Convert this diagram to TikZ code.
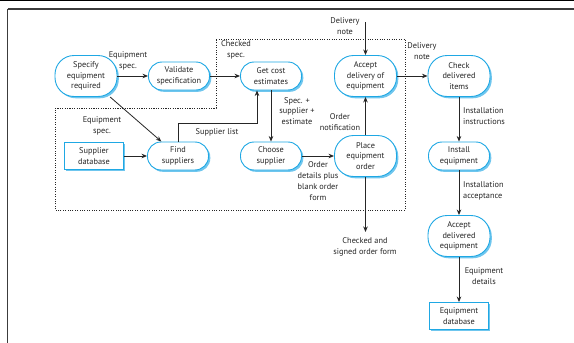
\documentclass[tikz,border=0pt]{standalone}
\usepackage{fontspec}
\setmainfont{PT Sans}
\usetikzlibrary{arrows.meta,shadows}

\definecolor{procblue}{HTML}{1FA8E4}
\definecolor{shadeblue}{HTML}{6FC6EE}
\definecolor{inkgray}{HTML}{262626}
\definecolor{framegray}{HTML}{3C3C3C}

\begin{document}
\begin{tikzpicture}[x=1pt,y=-1pt,
  txt/.style={font=\fontsize{8.3}{10.8}\selectfont, text=inkgray, align=center, inner sep=0pt},
  procbase/.style={txt, draw=procblue, fill=white, line width=0.9pt, inner sep=1pt,
    drop shadow={opacity=1, fill=shadeblue, shadow xshift=1.8pt, shadow yshift=-1.8pt}},
  proc/.style={procbase, rounded corners=13.5pt, minimum width=61pt, minimum height=28pt},
  bigproc/.style={procbase, rounded corners=19pt, minimum width=62pt, minimum height=41pt},
  store/.style={procbase, rectangle, minimum width=59pt, minimum height=27pt},
  lbl/.style={txt},
  arr/.style={draw=inkgray, line width=0.8pt, -{Stealth[length=5.5pt,width=4.5pt]}},
  boundary/.style={draw=inkgray, line width=0.8pt, dash pattern=on 1.1pt off 1.3pt}
]
\useasboundingbox (0,0) rectangle (574,343);
\fill[white] (0,0) rectangle (574,343);

% page frame
\draw[black, line width=0.8pt] (0,0.4) -- (574,0.4);
\draw[framegray, line width=1.5pt] (7.5,9) -- (574,9);
\draw[framegray, line width=1.3pt] (7.5,9) -- (7.5,343);

% enclosing boundary of the procurement activities
\draw[boundary] (55,108) -- (216,108) -- (216,39) -- (405,39) -- (405,210) -- (55,210) -- cycle;

% processes and data stores
\node[bigproc] (spec)    at (86,76)   {Specify\\equipment\\required};
\node[proc]    (valid)   at (179,76)  {Validate\\specification};
\node[proc]    (cost)    at (271,76)  {Get cost\\estimates};
\node[bigproc] (accept)  at (365.5,76) {Accept\\delivery of\\equipment};
\node[bigproc] (check)   at (459,76)  {Check\\delivered\\items};
\node[store]   (sdb)     at (94,156)  {Supplier\\database};
\node[proc]    (find)    at (178,156) {Find\\suppliers};
\node[proc]    (choose)  at (271,156) {Choose\\supplier};
\node[bigproc] (place)   at (365.5,156) {Place\\equipment\\order};
\node[proc]    (install) at (459,156) {Install\\equipment};
\node[bigproc] (acc2)    at (459,236) {Accept\\delivered\\equipment};
\node[store]   (edb)     at (459,316) {Equipment\\database};

% free ends of the external flows
\coordinate (dnin)  at (365.5,22);
\coordinate (cout)  at (365.5,232);
\coordinate (slbend) at (257,123);

% data flows
\draw[arr] (spec) -- (valid);
\draw[arr] (valid) -- (cost);
\draw[arr] (spec) -- (find);
\draw[arr] (sdb) -- (find);
\draw[arr] (find.north) |- (slbend) -- (slbend |- cost.south);
\draw[arr] (cost) -- (choose);
\draw[arr] (choose) -- (place);
\draw[arr] (place) -- (accept);
\draw[arr] (dnin) -- (accept);
\draw[arr] (accept) -- (check);
\draw[arr] (place) -- (cout);
\draw[arr] (check) -- (install);
\draw[arr] (install) -- (acc2);
\draw[arr] (acc2) -- (edb);

% flow labels
\node[lbl] (l1)  at (128,61)  {Equipment\\spec.};
\node[lbl] (l2)  at (236,50)  {Checked\\spec.};
\node[lbl] (l3)  at (102,126) {Equipment\\spec.};
\node[lbl] (l4)  at (217,132) {Supplier list};
\node[lbl] (l5)  at (297,111) {Spec. +\\supplier +\\estimate};
\node[lbl] (l6)  at (318,181) {Order\\details plus\\blank order\\form};
\node[lbl] (l7)  at (340,122) {Order\\notification};
\node[lbl] (l8)  at (345,26)  {Delivery\\note};
\node[lbl] (l9)  at (422,51)  {Delivery\\note};
\node[lbl] (l10) at (365,247) {Checked and\\signed order form};
\node[lbl, anchor=west, align=left] (l11) at (463,116) {Installation\\instructions};
\node[lbl, anchor=west, align=left] (l12) at (463,191) {Installation\\acceptance};
\node[lbl] (l13) at (484,276) {Equipment\\details};
\end{tikzpicture}
\end{document}
